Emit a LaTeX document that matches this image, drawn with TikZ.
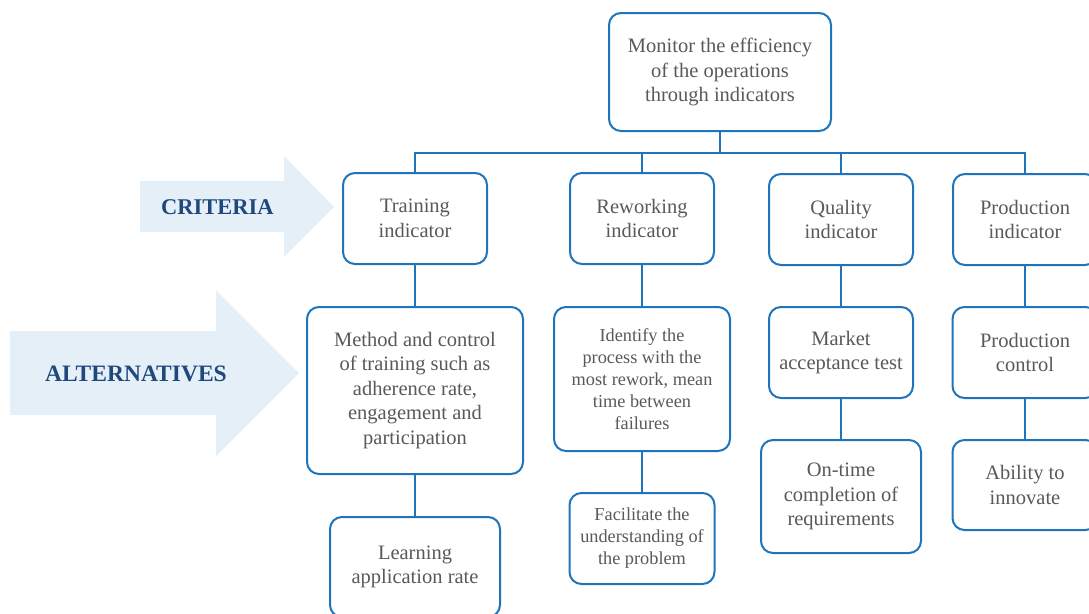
\documentclass[tikz,border=0pt]{standalone}
\usepackage{fontspec}
\setmainfont{Liberation Serif}
\definecolor{boxblue}{HTML}{1F74BB}
\definecolor{textgrey}{HTML}{595959}
\definecolor{arrowfill}{HTML}{E5EFF7}
\definecolor{labelblue}{HTML}{1F497D}
\begin{document}
\begin{tikzpicture}[x=1pt,y=-1pt,
  box/.style={draw=boxblue, line width=2pt, rounded corners=12pt, fill=white,
    text=textgrey, align=center, inner sep=0pt,
    font=\fontsize{20.5}{24.5}\selectfont},
  smallbox/.style={box, font=\fontsize{18.3}{22}\selectfont},
  link/.style={draw=boxblue, line width=2pt},
  bigarrow/.style={fill=arrowfill, draw=none},
  sidelabel/.style={text=labelblue, font=\fontsize{22.5}{26}\selectfont\bfseries}]
\clip (0,0) rectangle (1089,613);

% side arrows
\fill[bigarrow] (140,181) -- (284,181) -- (284,156) -- (334,207) -- (284,257) -- (284,232) -- (140,232) -- cycle;
\fill[bigarrow] (10,331) -- (216,331) -- (216,290) -- (299,373) -- (216,456) -- (216,415) -- (10,415) -- cycle;
\node[sidelabel] (crit) at (217.5,207) {CRITERIA};
\node[sidelabel, font=\fontsize{23.5}{26}\selectfont\bfseries] (alt) at (136,374) {ALTERNATIVES};

% goal
\node[box, minimum width=222pt, minimum height=118pt] (top) at (720,72)
  {Monitor the efficiency\\of the operations\\through indicators};

% criteria
\node[box, minimum width=144pt, minimum height=91pt] (train) at (415,218.5) {Training\\indicator};
\node[box, minimum width=144pt, minimum height=91pt] (rework) at (642,218.5) {Reworking\\indicator};
\node[box, minimum width=144pt, minimum height=91pt] (qual) at (841,219.5) {Quality\\indicator};
\node[box, minimum width=144pt, minimum height=91pt] (prod) at (1025,219.5) {Production\\indicator};

% alternatives
\node[box, minimum width=216pt, minimum height=167pt] (method) at (415,390.5)
  {Method and control\\of training such as\\adherence rate,\\engagement and\\participation};
\node[box, minimum width=170pt, minimum height=100pt] (learn) at (415,567) {Learning\\application rate};

\node[smallbox, minimum width=176pt, minimum height=144pt] (ident) at (642,379)
  {Identify the\\process with the\\most rework, mean\\time between\\failures};
\node[smallbox, minimum width=145pt, minimum height=91pt] (facil) at (642,538.5)
  {Facilitate the\\understanding of\\the problem};

\node[box, minimum width=144pt, minimum height=91pt] (market) at (841,352.5) {Market\\acceptance test};
\node[box, minimum width=160pt, minimum height=113pt] (ontime) at (841,496.5)
  {On-time\\completion of\\requirements};

\node[box, minimum width=145pt, minimum height=91pt] (pctrl) at (1025,352.5) {Production\\control};
\node[box, minimum width=145pt, minimum height=90pt] (innov) at (1025,485) {Ability to\\innovate};

% connectors
\coordinate (bus) at (720,153);
\draw[link] (top.south) -- (bus);
\draw[link] (bus) -| (train.north);
\draw[link] (bus) -| (rework.north);
\draw[link] (bus) -| (qual.north);
\draw[link] (bus) -| (prod.north);
\draw[link] (train) -- (method);
\draw[link] (method) -- (learn);
\draw[link] (rework) -- (ident);
\draw[link] (ident) -- (facil);
\draw[link] (qual) -- (market);
\draw[link] (market) -- (ontime);
\draw[link] (prod) -- (pctrl);
\draw[link] (pctrl) -- (innov);
\end{tikzpicture}
\end{document}
